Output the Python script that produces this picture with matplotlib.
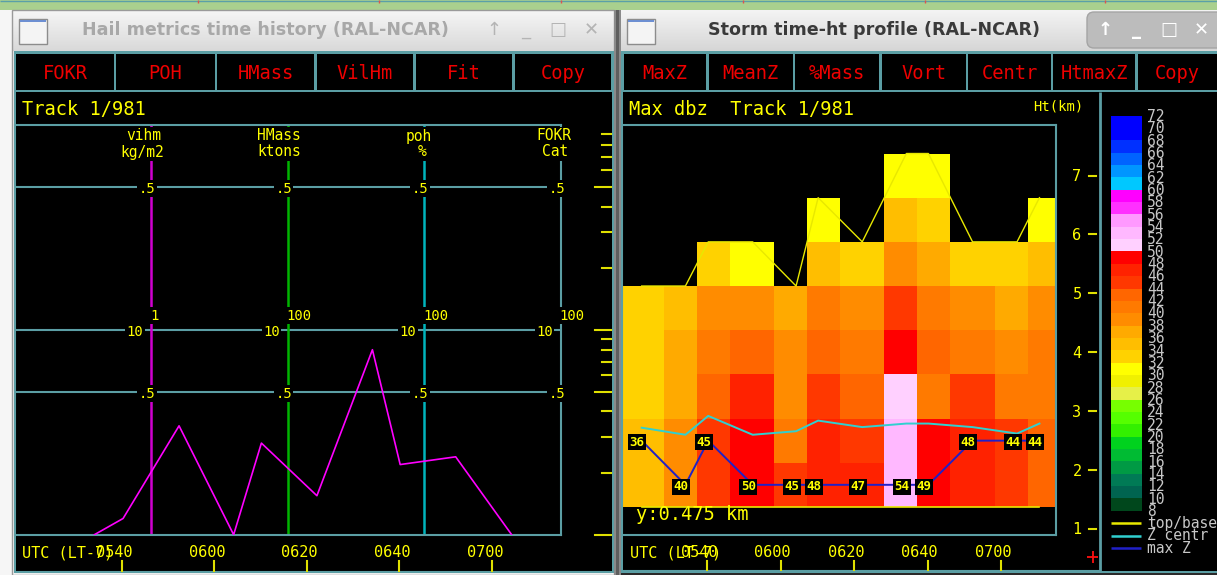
import numpy as np
import matplotlib
matplotlib.use("Agg")
import matplotlib.pyplot as plt
from matplotlib import transforms as mtrans
from matplotlib.colors import ListedColormap, BoundaryNorm, LinearSegmentedColormap
from matplotlib.patches import Rectangle, FancyBboxPatch

# ---------------- data ----------------
time_ticks = [40, 60, 80, 100, 120]            # minutes after 05:00 UTC
time_labels = ["0540", "0600", "0620", "0640", "0700"]
time_range = [16.85, 134.9]

scan_t = [22.2, 34.1, 40.3, 52.4, 64.2, 70.2, 82.2, 94.2, 100.2, 112.2, 124.3, 130.4]

vihm_t = [34.1, 40.3, 52.4, 64.2, 70.2, 82.2, 94.2, 100.2, 112.2, 124.3]
vihm_kgm2 = [0.10, 0.12, 0.34, 0.10, 0.28, 0.155, 0.80, 0.22, 0.24, 0.10]

hail_names = ["vihm", "HMass", "poh", "FOKR"]
hail_units = ["kg/m2", "ktons", "%", "Cat"]
hail_top_labels = ["1", "100", "100", "100"]
hail_line_colors = ["#d000d0", "#00b400", "#00b4bc", None]
hail_grid_vals = [0.5, 1.0, 5.0]
hail_major_ticks = [0.1, 0.5, 1.0, 5.0]
hail_minor_ticks = [0.2, 0.3, 0.4, 0.6, 0.7, 0.8, 0.9, 2, 3, 4, 6, 7, 8, 9]

left_buttons = ["FOKR", "POH", "HMass", "VilHm", "Fit", "Copy"]
right_buttons = ["MaxZ", "MeanZ", "%Mass", "Vort", "Centr", "HtmaxZ", "Copy"]

ht_rows_km = [1.75, 2.5, 3.25, 4.0, 4.75, 5.5, 6.25, 7.0]
nan = np.nan
maxdbz = [  # rows bottom -> top, columns = scans
    [35, 39, 45, 49, 45, 47, 47, 53, 49, 47, 45, 43],
    [35, 39, 45, 49, 41, 47, 45, 53, 49, 47, 45, 43],
    [33, 37, 43, 47, 39, 45, 43, 51, 41, 45, 41, 41],
    [33, 37, 41, 43, 39, 43, 41, 49, 43, 41, 39, 41],
    [33, 35, 39, 39, 37, 41, 39, 45, 41, 39, 37, 39],
    [nan, nan, 33, 31, nan, 35, 33, 39, 37, 33, 33, 35],
    [nan, nan, nan, nan, nan, 31, nan, 35, 33, nan, nan, 31],
    [nan, nan, nan, nan, nan, nan, nan, 31, 31, nan, nan, nan],
]
top_km = [5.125, 5.125, 5.875, 5.875, 5.125, 6.625, 5.875, 7.375, 7.375, 5.875, 5.875, 6.625]
base_km = [1.375] * 12
zcentr_km = [2.72, 2.60, 2.92, 2.60, 2.66, 2.84, 2.73, 2.79, 2.79, 2.73, 2.62, 2.79]
maxz_km = [2.5, 1.75, 2.5, 1.75, 1.75, 1.75, 1.75, 1.75, 1.75, 2.5, 2.5, 2.5]
maxz_dbz = [36, 40, 45, 50, 45, 48, 47, 54, 49, 48, 44, 44]
ht_ticks = [1, 2, 3, 4, 5, 6, 7]

dbz_levels = list(range(8, 74, 2))
dbz_colors = ["#00471c", "#006450", "#007a55", "#009a44", "#00bb33", "#00d21e",
              "#33f000", "#55ff00", "#77ff00", "#e6f048", "#f0f000", "#ffff00",
              "#ffd200", "#ffbe00", "#ffaa00", "#ff8c00", "#ff7a00", "#ff6600",
              "#ff3800", "#ff2200", "#ff0000", "#ffd0ff", "#ffb8ff", "#ff99ff",
              "#ff30ff", "#ff00ff", "#00c8ff", "#0096ff", "#0064ff", "#0030ff",
              "#0000ff", "#0000ff"]
legend_labels = ["top/base", "Z centr", "max Z"]
legend_colors = ["#e8e800", "#30d0d0", "#2020c8"]

# ---------------- figure ----------------
W, H = 1217, 575
fig = plt.figure(figsize=(W / 100, H / 100), dpi=100)
fig.patch.set_facecolor("#f2f2f2")

TEAL = "#5b9ea4"
YEL = "#ffff00"
BTN_RED = "#ee0000"
MONO = "DejaVu Sans Mono"


def frac(x0, y0, x1, y1):
    return [x0 / W, 1 - y1 / H, (x1 - x0) / W, (y1 - y0) / H]


bg = fig.add_axes([0, 0, 1, 1])
bg.axis("off")


def set_bg_lims():
    bg.set_xlim(0, W)
    bg.set_ylim(H, 0)


set_bg_lims()


def rect(x0, y0, x1, y1, fc, ec="none", lw=0, z=1):
    bg.add_patch(Rectangle((x0, y0), x1 - x0, y1 - y0, facecolor=fc,
                           edgecolor=ec, linewidth=lw, zorder=z))


def grad(x0, y0, x1, y1, c_top, c_bot, z=1):
    cm = LinearSegmentedColormap.from_list("g", [c_top, c_bot])
    bg.imshow(np.linspace(0, 1, 64)[:, None], extent=(x0, x1, y1, y0), cmap=cm,
              aspect="auto", zorder=z, interpolation="bilinear")


def line(x, y, c, lw=1.0, z=3):
    bg.plot(x, y, color=c, lw=lw, zorder=z, solid_capstyle="butt")


def fit_text(xc, y, s, width_px, **kw):
    t = bg.text(xc, y, s, ha="center", **kw)
    r = fig.canvas.get_renderer()
    w = t.get_window_extent(renderer=r).width
    t.set_fontsize(t.get_fontsize() * width_px / w)
    return t


# top desktop band
rect(0, 0, W, 9.5, "#a9d08e", z=1)
line([0, W], [0.5, 0.5], "#5aa0a8", lw=1)
for xr in [198, 379, 561, 743, 925, 1105]:
    line([xr, xr], [0, 2.5], "#e05050", lw=1)
rect(0, 9.5, 12, H, "#f6f6f6", z=1)

# ---- left window chrome ----
grad(12, 10, 614, 51, "#f6f6f6", "#d9d9d9")
rect(11.5, 9.5, 614, 574.5, "none", ec="#9a9a9a", lw=1, z=2)
rect(13.5, 51, 613.5, 573, TEAL, z=2)
lb_edges = [14.6, 114.7, 215.5, 315.1, 414.0, 513.3, 612.0]
for i, lab in enumerate(left_buttons):
    x0, x1 = lb_edges[i] + 1.5, lb_edges[i + 1] - 1.0
    rect(x0, 53.5, x1, 89.5, "black", z=3)
    bg.text((x0 + x1) / 2, 79, lab, ha="center", va="baseline", fontsize=13.5,
            family=MONO, color=BTN_RED, zorder=4)
rect(16, 92, 611.5, 571, "black", z=3)
# icon
rect(18.5, 18.5, 46.5, 43.5, "#f4f4f4", ec="#8c8c8c", lw=1, z=3)
rect(19.5, 19.5, 45.5, 22, "#6d8fd2", z=4)
fit_text(265.5, 35, "Hail metrics time history (RAL-NCAR)", 365, fontsize=12,
         weight="bold", color="#a8a8a8", va="baseline", zorder=4)
for xs, s in zip([494, 526, 558, 591], ["↑", "_", "□", "✕"]):
    bg.text(xs, 30, s, ha="center", va="center", fontsize=13, color="#b4b4b4",
            zorder=4, family="DejaVu Sans")

# divider between windows
rect(614, 10, 620.5, H, "#8a8a8a", z=2)
rect(616, 10, 618.5, H, "#5e5e5e", z=2)

# ---- right window chrome ----
grad(620.5, 10, W, 51, "#f4f4f4", "#d6d6d6")
bg.add_patch(FancyBboxPatch((1087, 12), 140, 36, boxstyle="round,pad=0,rounding_size=7",
                            facecolor="#bcbcbc", edgecolor="#a4a4a4", lw=1, zorder=3))
rect(620.5, 51, W, H, TEAL, z=2)
rb_edges = [622.0, 707.3, 793.8, 880.4, 966.9, 1051.5, 1136.0, 1222.0]
for i, lab in enumerate(right_buttons):
    x0, x1 = rb_edges[i] + 1.5, rb_edges[i + 1] - 1.0
    rect(x0, 53.5, x1, 89.5, "black", z=3)
    bg.text((x0 + min(x1, 1218)) / 2, 79, lab, ha="center", va="baseline",
            fontsize=13.5, family=MONO, color=BTN_RED, zorder=4)
rect(622.5, 92, W, 570.5, "black", z=3)
rect(620.5, 572.5, W, H, "#2a2a2a", z=3)
line([1100, 1100], [92, 571], TEAL, lw=2, z=4)
rect(626.5, 18.5, 654.5, 43.5, "#f4f4f4", ec="#8c8c8c", lw=1, z=3)
rect(627.5, 19.5, 653.5, 22, "#6d8fd2", z=4)
fit_text(874.5, 35, "Storm time-ht profile (RAL-NCAR)", 331, fontsize=12,
         weight="bold", color="#3a3a3a", va="baseline", zorder=4)
for xs, s in zip([1105, 1137, 1169, 1201], ["↑", "_", "□", "✕"]):
    bg.text(xs, 30, s, ha="center", va="center", fontsize=13, color="white",
            weight="bold", zorder=5, family="DejaVu Sans")

# ---- left panel texts ----
bg.text(22, 115, "Track 1/981", ha="left", va="baseline", fontsize=13.5,
        family=MONO, color=YEL, zorder=5)

# ---------------- left: hail metrics axes ----------------
ax1 = fig.add_axes(frac(14.6, 125, 560.7, 534.7))
ax1.set_facecolor("black")
ax1.set_yscale("log")
ax1.set_xlim(time_range)
ax1.set_ylim(0.1, 10)
ax1.tick_params(which="both", left=False, bottom=False, labelleft=False,
                labelbottom=False)
for sp in ax1.spines.values():
    sp.set_color(TEAL)
    sp.set_linewidth(1.5)
for v in hail_grid_vals:
    ax1.axhline(v, color=TEAL, lw=1.5, zorder=1)
axis_fracs = [0.25, 0.5, 0.75, 1.0]
for f, c in zip(axis_fracs, hail_line_colors):
    if c:
        ax1.plot([f, f], [0, 1], transform=ax1.transAxes, color=c, lw=1.8, zorder=2)
ax1.plot(vihm_t, vihm_kgm2, color="#ff00ff", lw=1.2, zorder=3)

trA = mtrans.blended_transform_factory(ax1.transAxes, bg.transData)
trD = mtrans.blended_transform_factory(ax1.transAxes, ax1.transData)
lbl_kw = dict(family=MONO, color=YEL, zorder=5, clip_on=False,
              bbox=dict(boxstyle="square,pad=0.1", fc="black", ec="none"))
for f, nm, un, tl in zip(axis_fracs, hail_names, hail_units, hail_top_labels):
    ax1.text(f, 140.5, nm, ha="center", va="baseline", fontsize=10.5,
             transform=mtrans.offset_copy(trA, fig=fig, x=-1.75 * len(nm), y=0, units="dots"),
             **lbl_kw)
    ax1.text(f, 156.5, un, ha="center", va="baseline", fontsize=10.5,
             transform=mtrans.offset_copy(trA, fig=fig, x=-1.75 * len(un), y=0, units="dots"),
             **lbl_kw)
    for v in [5.0, 0.5]:
        ax1.text(f, v, ".5", ha="center", va="baseline", fontsize=10,
                 transform=mtrans.offset_copy(trD, fig=fig, x=-4, y=-6, units="dots"),
                 **lbl_kw)
    ax1.text(f, 1.0, "10", ha="right", va="baseline", fontsize=10,
             transform=mtrans.offset_copy(trD, fig=fig, x=-8, y=-6, units="dots"),
             **lbl_kw)
    ax1.text(f, 1.0, tl, ha="left", va="baseline", fontsize=10,
             transform=mtrans.offset_copy(trD, fig=fig, x=-1, y=10, units="dots"),
             **lbl_kw)

# right-side log ticks of left panel
trR1 = mtrans.blended_transform_factory(bg.transData, ax1.transData)
for v in hail_major_ticks:
    bg.plot([595, 611], [v, v], transform=trR1, color="#e0e000", lw=1.5, zorder=5)
for v in hail_minor_ticks:
    bg.plot([602, 611], [v, v], transform=trR1, color="#e0e000", lw=1.5, zorder=5)

# left time axis
line([14.6, 611], [571.5, 571.5], TEAL, lw=1.5, z=5)
trT1 = mtrans.blended_transform_factory(ax1.transData, bg.transData)
for t, lab in zip(time_ticks, time_labels):
    bg.plot([t, t], [561, 571], transform=trT1, color="#e0e000", lw=1.5, zorder=5)
    bg.text(t, 557, lab, ha="center", va="baseline", fontsize=11, family=MONO,
            color=YEL, zorder=6,
            transform=mtrans.offset_copy(trT1, fig=fig, x=-7, y=0, units="dots"))
bg.text(22, 557, "UTC (LT-7)", ha="left", va="baseline", fontsize=11, family=MONO,
        color=YEL, zorder=6)

# ---------------- right: storm time-height profile ----------------
bg.text(629, 115, "Max dbz  Track 1/981", ha="left", va="baseline", fontsize=13.5,
        family=MONO, color=YEL, zorder=5)
bg.text(1033, 110, "Ht(km)", ha="left", va="baseline", fontsize=10, family=MONO,
        color=YEL, zorder=5)

ax2 = fig.add_axes(frac(622, 125, 1056, 535))
ax2.set_facecolor("black")
ax2.set_xlim(time_range)
ax2.set_ylim(0.898, 7.859)
ax2.set_xticks([])
ax2.set_yticks([])
for sp in ax2.spines.values():
    sp.set_color(TEAL)
    sp.set_linewidth(1.5)

st = np.array(scan_t)
col_edges = np.concatenate([[time_range[0]], (st[1:] + st[:-1]) / 2, [time_range[1]]])
hr = np.array(ht_rows_km)
dh = hr[1] - hr[0]
row_edges = np.concatenate([hr - dh / 2, [hr[-1] + dh / 2]])
cmap = ListedColormap(dbz_colors)
norm = BoundaryNorm(dbz_levels, cmap.N)
ax2.pcolormesh(col_edges, row_edges, np.ma.masked_invalid(np.array(maxdbz, float)),
               cmap=cmap, norm=norm, antialiased=False, zorder=1)
ax2.plot(scan_t, top_km, color=legend_colors[0], lw=1.0, zorder=2)
ax2.plot(scan_t, base_km, color=legend_colors[0], lw=1.2, zorder=2)
ax2.plot(scan_t, zcentr_km, color=legend_colors[1], lw=1.4, zorder=3)
ax2.plot(scan_t, maxz_km, color=legend_colors[2], lw=1.4, zorder=4)
for t, h, v in zip(scan_t, maxz_km, maxz_dbz):
    ax2.annotate(str(v), (t, h), xytext=(-4.5, -1.7), textcoords="offset pixels",
                 ha="center", va="center", fontsize=9, family=MONO, weight="bold",
                 color=YEL, zorder=6,
                 bbox=dict(boxstyle="square,pad=0.12", fc="black", ec="none"))
ax2.text(636, 520, "y:0.475 km", ha="left", va="baseline", fontsize=13.5,
         family=MONO, color=YEL, zorder=6,
         transform=bg.transData)

# height axis labels
trR2 = mtrans.blended_transform_factory(bg.transData, ax2.transData)
for h in ht_ticks:
    bg.plot([1089, 1096], [h, h], transform=trR2, color="#e0e000", lw=1.5, zorder=5)
    bg.text(1077, h, str(h), ha="center", va="baseline", fontsize=11, family=MONO,
            color=YEL, zorder=5,
            transform=mtrans.offset_copy(trR2, fig=fig, x=0, y=-5.5, units="dots"))

# right time axis
line([622, 1100], [570.5, 570.5], TEAL, lw=1.5, z=5)
trT2 = mtrans.blended_transform_factory(ax2.transData, bg.transData)
for t, lab in zip(time_ticks, time_labels):
    bg.plot([t, t], [561, 570], transform=trT2, color="#e0e000", lw=1.5, zorder=5)
    bg.text(t, 557, lab, ha="center", va="baseline", fontsize=11, family=MONO,
            color=YEL, zorder=6,
            transform=mtrans.offset_copy(trT2, fig=fig, x=-8, y=0, units="dots"))
bg.text(629.5, 557, "UTC (LT-7)", ha="left", va="baseline", fontsize=11, family=MONO,
        color=YEL, zorder=6)

# colour scale
cax = fig.add_axes(frac(1111, 115.7, 1142, 510.7))
cax.bar(np.zeros(len(dbz_colors)), np.diff(dbz_levels), bottom=dbz_levels[:-1],
        width=1, align="edge", color=dbz_colors, linewidth=0)
cax.set_xlim(0, 1)
cax.set_ylim(dbz_levels[0], dbz_levels[-1])
cax.axis("off")
trC = mtrans.blended_transform_factory(bg.transData, cax.transData)
for lv in dbz_levels:
    bg.text(1147, lv, str(lv), ha="left", va="baseline", fontsize=10.5, family=MONO,
            color="#c8c8c8", zorder=5,
            transform=mtrans.offset_copy(trC, fig=fig, x=0, y=-5.3, units="dots"))
for i, (lab, c) in enumerate(zip(legend_labels, legend_colors)):
    yy = 522.7 + i * 12.8
    line([1111, 1141], [yy, yy], c, lw=1.8, z=5)
    bg.text(1147, yy + 5, lab, ha="left", va="baseline", fontsize=10.5, family=MONO,
            color="#c8c8c8", zorder=5)

# red cursor mark
line([1087, 1098], [557, 557], "#ff1010", lw=1.3, z=6)
line([1092.5, 1092.5], [551, 563], "#ff1010", lw=1.3, z=6)

set_bg_lims()
fig.savefig("out.png", dpi=100, facecolor=fig.get_facecolor())
